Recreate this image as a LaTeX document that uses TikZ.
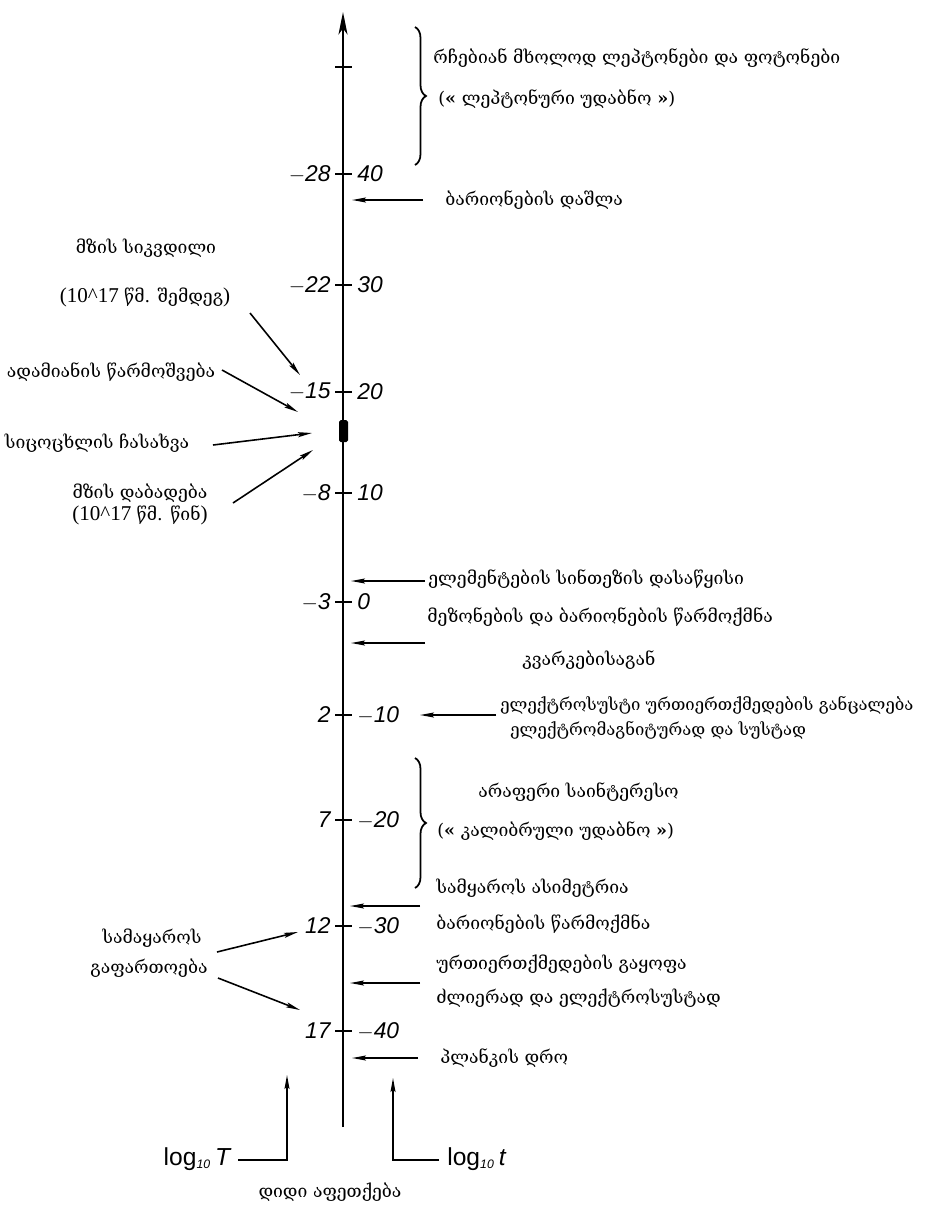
\documentclass[tikz,border=0pt]{standalone}
\usepackage{fontspec}
\setmainfont{Liberation Serif}
\newfontfamily\geo{DejaVu Serif}
\newfontfamily\numf{Liberation Sans}
\usetikzlibrary{arrows.meta,decorations.pathreplacing}
\begin{document}
\begin{tikzpicture}[x=0.02cm,y=-0.02cm,
  lbl/.style={font=\geo\fontsize{10}{12}\selectfont, inner sep=0pt},
  lblsm/.style={font=\geo\fontsize{9.5}{11}\selectfont, inner sep=0pt},
  num/.style={font=\numf\itshape\fontsize{13}{15}\selectfont, inner sep=0pt},
  arr/.style={line width=0.9pt, -{Stealth[length=0.28cm,width=0.1cm,inset=0.05cm]}},
  axisline/.style={line width=1.3pt, -{Stealth[length=0.45cm,width=0.18cm,inset=0.12cm]}},
  tickline/.style={line width=1pt},
  bracket/.style={line width=1pt, decorate, decoration={brace, amplitude=0.22cm}}
]
\useasboundingbox (0,0) rectangle (931,1205);
\fill[white] (0,0) rectangle (931,1205);

% axis
\coordinate (axbot) at (343,1127);
\coordinate (axtop) at (343,12);
\draw[axisline] (axbot) -- (axtop);
\fill[black, rounded corners=1pt] (339,420) rectangle (348,442);

% ticks and numbers
\draw[tickline] (335,67) -- (352,67);
\foreach \yy/\l/\r/\n in {174/$-$28/40/a, 285/$-$22/30/b, 392/$-$15/20/c, 493/$-$8/10/d, 602/$-$3/0/e, 715/2/$-$10/f, 820/7/$-$20/g, 926/12/$-$30/h, 1031/17/$-$40/i}{
  \draw[tickline] (335,\yy) -- (352,\yy);
  \node[num, anchor=east] (l\n) at (331,\yy) {\l};
  \node[num, anchor=west] (r\n) at (357,\yy) {\r};
}

% braces
\draw[bracket] (415,27) -- (415,165);
\draw[bracket] (415,758) -- (415,888);

% right labels
\node[lbl, anchor=west] (t1) at (433,58) {რჩებიან მხოლოდ ლეპტონები და ფოტონები};
\node[lbl, anchor=west] (t2) at (438,99) {({\bfseries «} ლეპტონური უდაბნო {\bfseries »})};
\node[lbl, anchor=west] (t3) at (445,200) {ბარიონების დაშლა};
\node[lbl, anchor=west] (t4) at (428,579) {ელემენტების სინთეზის დასაწყისი};
\node[lbl, anchor=west] (t5) at (427,617) {მეზონების და ბარიონების წარმოქმნა};
\node[lbl, anchor=west] (t6) at (522,660) {კვარკებისაგან};
\node[lblsm, anchor=west] (t7) at (500,705) {ელექტროსუსტი ურთიერთქმედების განცალება};
\node[lblsm, anchor=west] (t8) at (510,730) {ელექტრომაგნიტურად და სუსტად};
\node[lbl, anchor=west] (t9) at (478,792) {არაფერი საინტერესო};
\node[lbl, anchor=west] (t10) at (437,831) {({\bfseries «} კალიბრული უდაბნო {\bfseries »})};
\node[lbl, anchor=west] (t11) at (436,888) {სამყაროს ასიმეტრია};
\node[lbl, anchor=west] (t12) at (436,924) {ბარიონების წარმოქმნა};
\node[lbl, anchor=west] (t13) at (436,964) {ურთიერთქმედების გაყოფა};
\node[lbl, anchor=west] (t14) at (436,998) {ძლიერად და ელექტროსუსტად};
\node[lbl, anchor=west] (t15) at (440,1058) {პლანკის დრო};

% right arrows
\coordinate (s3) at (423,200);   \coordinate (e3) at (352,200);
\coordinate (s4) at (425,581);   \coordinate (e4) at (351,581);
\coordinate (s5) at (425,643);   \coordinate (e5) at (351,643);
\coordinate (s7) at (496,715);   \coordinate (e7) at (420,715);
\coordinate (s11) at (420,906);  \coordinate (e11) at (350,906);
\coordinate (s13) at (420,983);  \coordinate (e13) at (350,983);
\coordinate (s15) at (418,1058); \coordinate (e15) at (352,1058);
\foreach \k in {3,4,5,7,11,13,15} \draw[arr] (s\k) -- (e\k);

% left labels
\node[lbl] (u1) at (146,248) {მზის სიკვდილი};
\node[lbl] (u2) at (145,297) {\fontsize{12}{14}\rmfamily(10\^{}17 \geo\fontsize{10}{12}\selectfont წმ. შემდეგ\rmfamily\fontsize{12}{14}\selectfont)};
\node[lbl] (u3) at (111,372) {ადამიანის წარმოშვება};
\node[lbl] (u4) at (97,443) {სიცოცხლის ჩასახვა};
\node[lbl] (u5) at (140,493) {მზის დაბადება};
\node[lbl] (u6) at (140,515) {\fontsize{12}{14}\rmfamily(10\^{}17 \geo\fontsize{10}{12}\selectfont წმ. წინ\rmfamily\fontsize{12}{14}\selectfont)};
\node[lbl] (u7) at (152,938) {სამაყაროს};
\node[lbl] (u8) at (149,968) {გაფართოება};

\coordinate (p1) at (250,313); \coordinate (q1) at (300,375);
\coordinate (p2) at (222,370); \coordinate (q2) at (298,412);
\coordinate (p3) at (213,445); \coordinate (q3) at (312,433);
\coordinate (p4) at (233,503); \coordinate (q4) at (313,450);
\coordinate (p5) at (217,952); \coordinate (q5) at (298,932);
\coordinate (p6) at (218,978); \coordinate (q6) at (300,1010);
\foreach \k in {1,...,6} \draw[arr] (p\k) -- (q\k);

% bottom
\coordinate (cT) at (287,1160); \coordinate (tT) at (287,1075);
\coordinate (ct) at (393,1160); \coordinate (tt) at (393,1078);
\node[anchor=base east, inner sep=0pt, font=\numf\fontsize{14}{16}\selectfont] (logT) at (232,1165) {log$_{\textit{\scriptsize 10}}$\,\textit{T}};
\node[anchor=base west, inner sep=0pt, font=\numf\fontsize{14}{16}\selectfont] (logt) at (447,1165) {log$_{\textit{\scriptsize 10}}$\,\textit{t}};
\draw[arr] (logT.east |- cT) ++(6,0) coordinate (hT) -- (cT) -- (tT);
\draw[arr] (logt.west |- ct) ++(-8,0) coordinate (ht) -- (ct) -- (tt);
\node[lbl] (bb) at (330,1192) {დიდი აფეთქება};
\end{tikzpicture}
\end{document}
